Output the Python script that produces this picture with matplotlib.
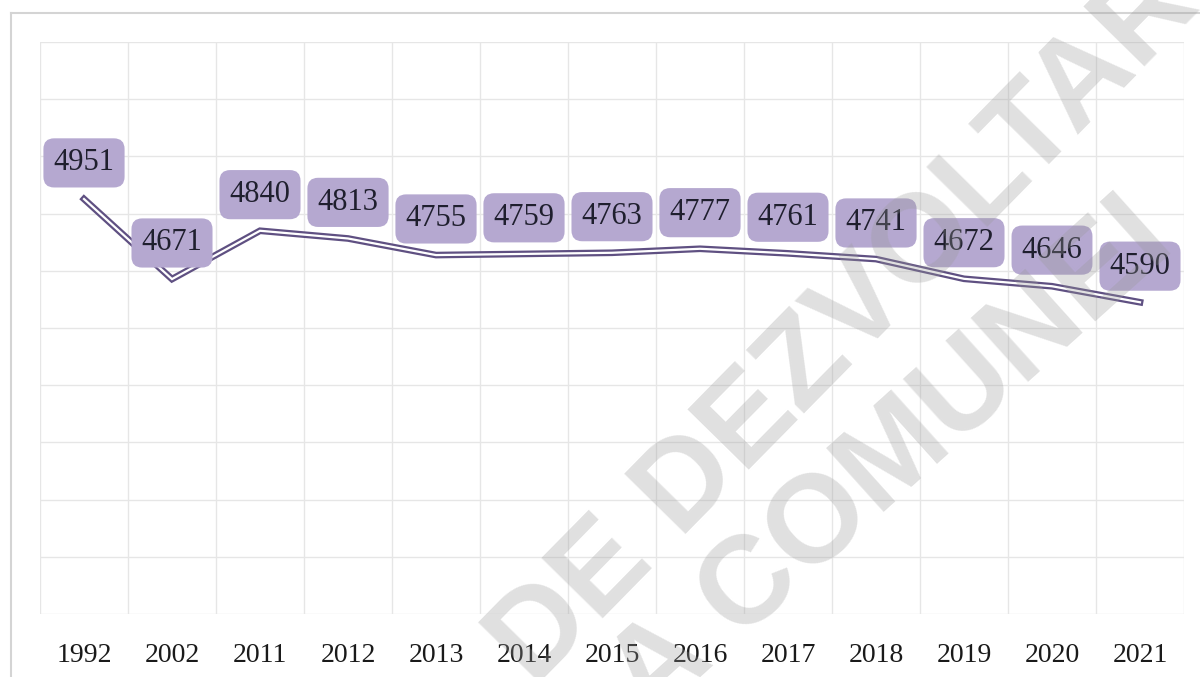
import matplotlib
matplotlib.use('Agg')
import matplotlib.pyplot as plt
from matplotlib.lines import Line2D
import numpy as np

# population by year
years = ['1992', '2002', '2011', '2012', '2013', '2014', '2015',
         '2016', '2017', '2018', '2019', '2020', '2021']
population = [4951, 4671, 4840, 4813, 4755, 4759, 4763,
              4777, 4761, 4741, 4672, 4646, 4590]

line_col = '#5f5082'
box_col = '#b5a8d0'
text_col = '#1f1f2e'
grid_col = '#e6e6e6'

fig = plt.figure(figsize=(12, 6.77), dpi=100)
ax = fig.add_axes([40/1200, 63/677, 1144/1200, 572/677])

x = np.arange(len(years))
# double line: dark purple outside, white core
ax.plot(x, population, color=line_col, lw=4.8, solid_joinstyle='miter', zorder=3)
ax.plot(x, population, color='white', lw=1.6, solid_joinstyle='miter', zorder=4)

for i, v in enumerate(population):
    ax.annotate(f'{v}', (i, v), xytext=(0, 26), textcoords='offset points',
                ha='center', va='center', fontsize=22, family='Liberation Serif',
                color=text_col, zorder=5,
                bbox=dict(boxstyle='round,pad=0.33,rounding_size=0.35', fc=box_col, ec='none'))

ax.set_xlim(-0.5, len(years) - 0.5)
ax.set_ylim(3500, 5500)
ax.set_yticks(np.arange(3500, 5501, 200))
ax.set_xticks(x)
ax.set_xticklabels(years, fontsize=20, family='Liberation Serif', color='#1a1a1a')
ax.set_xticks(np.arange(-0.5, len(years)), minor=True)
ax.grid(which='minor', axis='x', color=grid_col, lw=1)
ax.grid(which='major', axis='y', color=grid_col, lw=1)
ax.tick_params(which='both', length=0)
ax.tick_params(axis='x', pad=21)
ax.tick_params(axis='y', labelleft=False)
for s in ax.spines.values():
    s.set_visible(False)

# outer chart frame
fig.add_artist(Line2D([11/1200, 1], [1 - 13/677, 1 - 13/677], color='#d4d4d4', lw=1.5))
fig.add_artist(Line2D([11/1200, 11/1200], [0, 1 - 13/677], color='#d4d4d4', lw=1.5))

# watermark, cut by the picture edge as in the source
wm = dict(rotation_mode='anchor', ha='center', va='center',
          fontsize=90, family='Liberation Sans', weight='bold',
          color='#9a9a9a', alpha=0.3, zorder=10)
fig.text(875/1200, 1 - 296/677, 'DE DEZVOLTARE', rotation=45.5, **wm)
fig.text(892/1200, 1 - 462/677, 'A COMUNEI', rotation=42, **wm)

fig.savefig('out.png', dpi=100)
